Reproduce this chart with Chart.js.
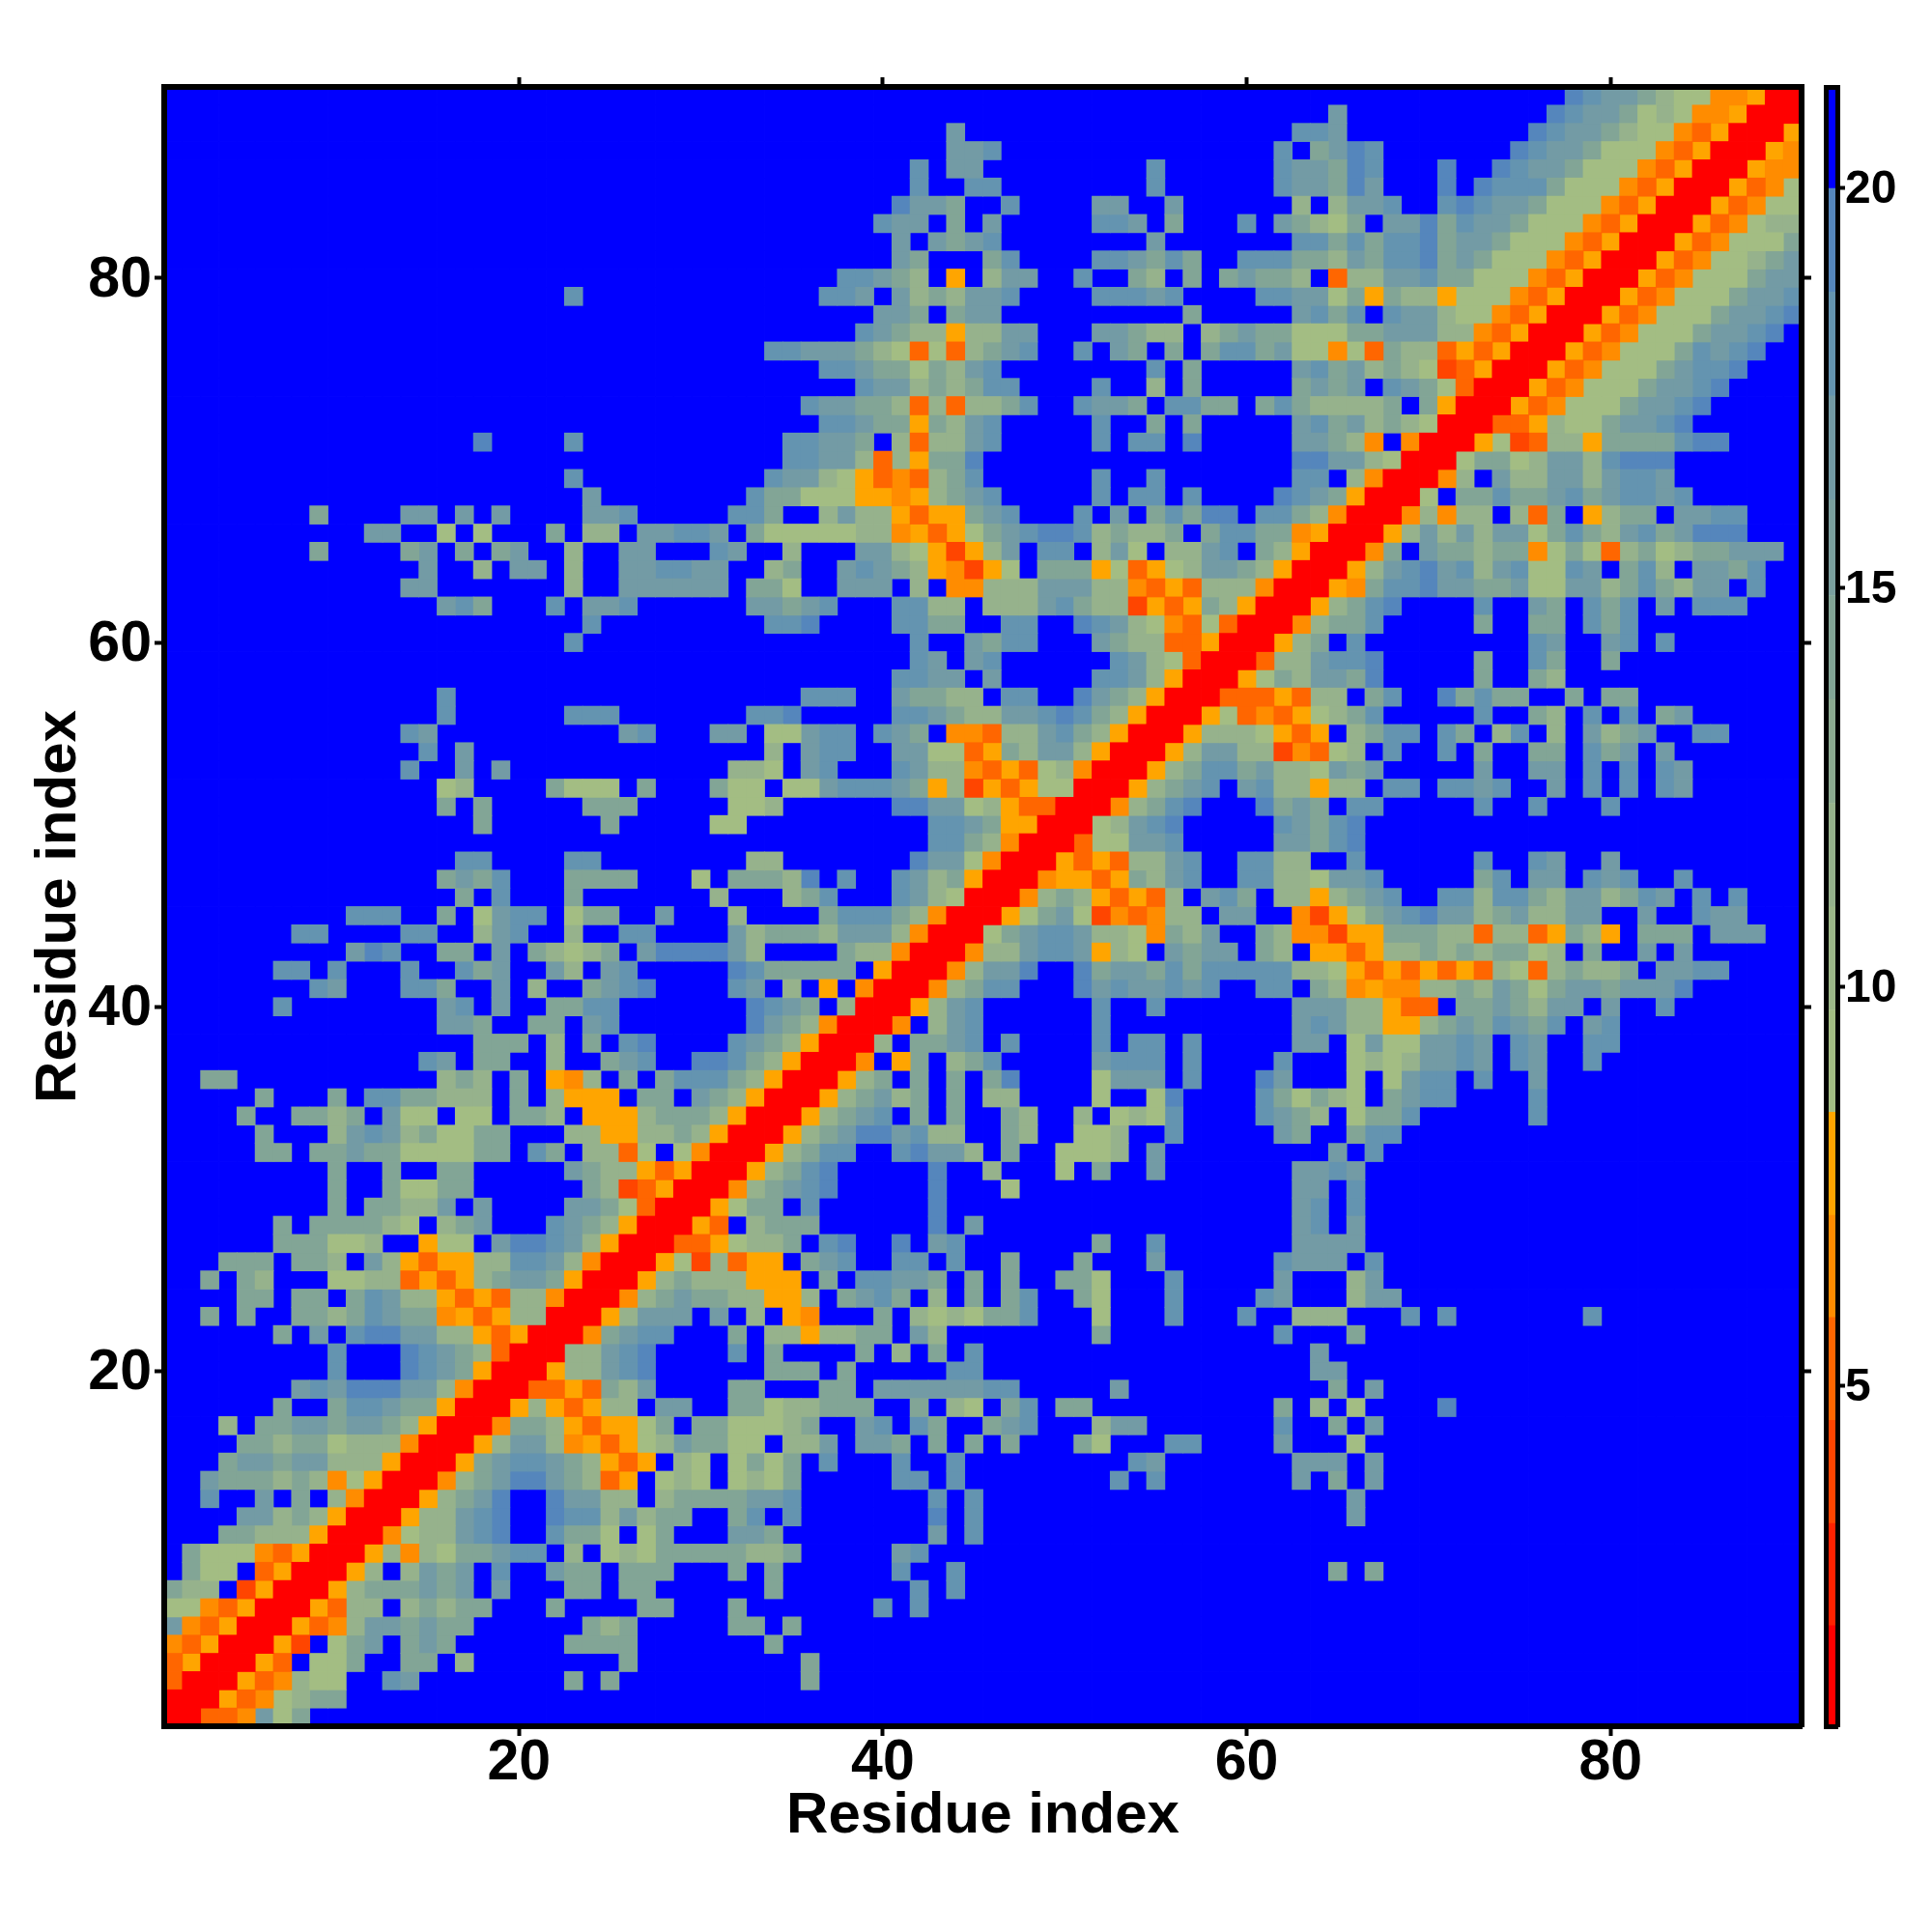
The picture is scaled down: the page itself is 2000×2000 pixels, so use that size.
<!DOCTYPE html>
<html><head><meta charset="utf-8">
<style>html,body{margin:0;padding:0;background:#fff}
#main{position:absolute;left:0;top:0}
#bar{position:absolute;left:1860px;top:0}</style>
<script src="https://cdn.jsdelivr.net/npm/chart.js@4"></script>
</head><body>
<canvas id="main" width="2000" height="2000"></canvas>
<canvas id="bar" width="140" height="2000"></canvas>
<script>
const residueCount = 90;
const axisTicks = [20,40,60,80];
const barTicks = [5,10,15,20];
const axisTitle = 'Residue index';
const levelBreaks = [0.74,2,3.28,4.57,5.86,7.14,8.43,9.71,11,12.3,13.6,14.9,16.1,17.4,18.7,20,21.27];
const levelColors = ['#ff0000','#ff2200','#ff4500','#ff6600','#ff8c00','#ffa500','#a3bd83','#9cb788','#96b28c','#8cab91','#82a596','#7a9f9e','#739ba5','#6494b0','#5586bc','#0000ff'];
// distance read from each cell, by letter
const letterValues = {X:1.35,R:3.9,Q:5.2,P:6.5,O:7.8,f:9.1,e:11.6,d:14.2,c:16.8,b:18,a:19.4};
const farValue = 20.6;
// rows[i] is residue y=i+1, cells for x<=y as "startX letters"; unlisted cells are far; the map is symmetric
const rows = [
"1X","1XX","1QXX","1QOXX","1PQOXX","1cPQOXX","1ffPQOXX","1dee 5ROXX","2dff 6QOXX","2dfffPQOXX",
"4ddeeeOXX","5ccedeOXX","3b 6c 8d 10ePXX","3cdddedePfOXX","4dccdcceeeOXX","5ddeddfeeePXX","4e 6ddccdccdeOXX","7d 10dbbcddOXX","8cbcaaaccePXX","10b 14abcdOXX",
"10b 14abcdeQXX","7d 9c 11baacceeOQOXX","3d 5d 8ddedbcddPOQOeeXX","5dd 8dd 11dbceeOQOQeePXX","3d 5de 10ffeeQOQOedccdOXX","4ddd 8dde 12ceOQOOeebbcePXX","7dddffe 15Off 19caabceOXX","7d 9ddddef 16edc 22bcdeOXX","10d 12ddeec 18c 23ccdfQXX","10d 13dffdd 24deRQOXX",
"10d 13d 16dd 23cdeeOQOXX","6dd 9ddcddffffdd 21bd 24eeQf 29fPXX","6d 10ecbcedffdd 23eeOOeedeOXX","5d 8dded 13cff 17ff 20dde 24OOOedddeOXX","6d 10d 12bbddeee 20d 22eOOO 27dd 30cdeOXX","3dd 16ede 20d 22OPe 26d 28dbbbdeOXX","15bc 18dd 22e 25dcb 30aabdeOXX","18ddd 22e 24d 26ba 32bcdeOXX","16ccd 21dd 24cb 33acdePXX","7b 16cb 19c 22ddbb 33abcd 38eXX",
"9bc 14bbd 19c 21e 24dcba 32bc 35e 37O 39PXX","7bb 10b 14b 17bdc 22ce 25cb 32abddddd 40OXX","11cab 16dd 19c 21defed 27caaaace 38deePXX","8bb 14bb 18ecb 23e 26bb 32cedddecccePXX","11bbb 16d 18fcbb 23fdd 28c 32e 37dbbbdePXX","17d 19b 23d 31e 35edb 41bcefXX","16dcdb 23dddd 30f 32dddea 38b 41bcedOXX","17bb 23bb 33ee 42accfPXX","43bbdePXX","18d 25d 31ff 43bbcdOOXX",
"16d 18d 24ddd 32ffe 41aaccfeOQQXX","16fe 22dfff 27d 31dff 35ffcbbbcdOeROQOffXX","14b 17c 19c 32eef 36cb 41bceePQOQfePXX","15b 17c 34e 36cbb 41ccffQOdecceOXX","14bc 26cb 31cc 34ffcbb 40bcd 44PPQeecbdeOXX","16b 23bbb 33bba 41bbcdeeccbabdeOXX","16b 36bbb 41cddee 47bb 51acdeOXX","41bbcc 46c 52bbceOXX","42bc 45cb 53bcefQXX","23b 42b 45cdbb 52cdeeQQOXX",
"24b 34bba 41bbdd 47bb 51abcefPQfQXX","16cbd 22b 24ccb 33ccdcb 41bbee 46eeecbdeeROQOdeOXX","14cc 23e 26cccccc 33ddf 38ccc 42e 44PPeeeccceePQOQeeePXX","15c 18e 20cc 23e 26ccbbcc 34ed 38cbcdeOPROf 49dddOfQOfeccdeOXX","9d 14dc 17d 19dc 23e 26cc 31bc 35e 39ccefOROec 49bb 52ecf 56eecb 61deOXX","12cc 16f 18f 22d 24ee 27ccbbc 33dfffffeePOQOfdcbaabedeed 58dbbddPOXX","9d 14cc 17c 19c 24ccb 32bbd 37eceeOQOOdcb 51b 53c 55dbdaa 61bbdePXX","24c 33bddfffOOPOedcb 52b 54bb 57b 62abcdOXX","23b 34bccefOQPQedb 52b 55b 63bb 66ePXX","35bbcceQeOdda 63aaccefXX",
"18a 23b 35bbccd 41eQeecb 52b 54bb 57a 63ccdeP 69PXX","37bbcddOdecb 52b 55d 57d 63cbdcedefXX","36bccddeQeQeedb 51bccd 56bbdd 61dbdeeeed 70dOXX","39bccededbb 52b 55e 57d 63dcdc 68bcdfQXX","37bbcddfdecb 55b 57d 63cbdcedefRQOXX","34bbcccdefQfQedcb 51b 53cd 56d 58dbbdcffPfQdeeQOQOXX","39bcdeeOeecc 52ccdee 58edcddfffddccceePQOXX","40ccd 44dcc 57d 63cbdb 68bcceffPQOXX","23b 37bbc 41cedeccb 52bbbcb 61bbccfdOdeeOfffPQOXX","38bbcde 44O 46ecc 51b 54de 57d 59dcdde 65QeeccbddfffPQOXX",
"41cd 46db 52bbcdbd 60bbbddecdbbadcdfffPQOXX","41c 43cdcb 55c 63bbdbdbbadccdfffPQOXX","40bcc 44d 46c 52bbc 56d 60b 62cdefd 68ccadbccdfffPQOXX","41accd 47b 52cc 56c 63e 65eccb 71babccdfffPQOXX","42b 45bb 55b 62bccdac 71a 73abbbdfffPQOXX","42b 44cc 55b 62bccdab 71a 74abccdfffPQOXX","44ccb 62b 64dcab 75abccdfffPQOXX","44c 63bbc 76abccdeffPQOXX","65c 77abccdfefPPOXX","78abccdeffPPOXX"
];

// decode into the full symmetric matrix
const values = Array.from({length:residueCount},()=>new Array(residueCount).fill(farValue));
rows.forEach((row,i)=>{
  for(const seg of row.split(' ')){
    const m = seg.match(/^(\d+)(.+)$/);
    [...m[2]].forEach((ch,k)=>{
      const x = +m[1]-1+k;
      if(x<residueCount){values[i][x]=letterValues[ch];values[x][i]=letterValues[ch];}
    });
  }
});
const levelOf = v => {for(let l=0;l<levelColors.length;l++) if(v<levelBreaks[l+1]) return l; return levelColors.length-1;};
const byLevel = levelColors.map(()=>[]);
values.forEach((r,yi)=>r.forEach((v,xi)=>byLevel[levelOf(v)].push({x:xi+1,y:yi+1,v})));

const fontFamily = '"Liberation Sans", Arial, Helvetica, sans-serif';
const fixSize = (prop,size)=> s=>{s[prop]=size;};
const frame = {display:true,width:6,color:'#000',z:1};
const barFrame = {display:true,width:5,color:'#000',z:1};
const tickGrid = len=>({display:true,drawOnChartArea:false,drawTicks:true,tickLength:len,tickWidth:4,tickColor:'#000',z:1});
const setTicks = arr => s=>{s.ticks=arr.map(v=>({value:v}));};
const axisFont = {family:fontFamily,size:59,weight:'bold',lineHeight:1};
const titleFont = {family:fontFamily,size:60,weight:'bold'};

const cellHalf = c => {
  const xs=c.chart.scales.x;
  const half=Math.abs(xs.getPixelForValue(2)-xs.getPixelForValue(1))/2;
  return (half+0.4)/Math.SQRT1_2;
};

new Chart(document.getElementById('main'),{
  type:'scatter',
  data:{datasets:byLevel.map((pts,l)=>({
    label:'level '+l,data:pts,pointStyle:'rect',backgroundColor:levelColors[l],
    borderWidth:0,pointBorderWidth:0,pointRadius:cellHalf,pointHoverRadius:cellHalf,clip:0,
    order:l
  })).filter(d=>d.data.length)},
  options:{
    responsive:false,animation:false,events:[],parsing:false,
    layout:{padding:0},
    plugins:{legend:{display:false},tooltip:{enabled:false},title:{display:false}},
    scales:{
      x:{type:'linear',position:'bottom',min:0.5,max:residueCount+0.5,afterBuildTicks:setTicks(axisTicks),afterFit:fixSize('height',213),
        border:frame,grid:tickGrid(10),
        ticks:{color:'#000',font:axisFont,padding:-1,maxRotation:0,autoSkip:false,z:1},
        title:{display:true,text:axisTitle,color:'#000',font:titleFont,padding:{top:0,bottom:84}}},
      xTop:{axis:'x',type:'linear',position:'top',min:0.5,max:residueCount+0.5,afterBuildTicks:setTicks(axisTicks),afterFit:fixSize('height',90),
        border:frame,grid:tickGrid(10),ticks:{display:false,z:1}},
      y:{type:'linear',position:'left',min:0.5,max:residueCount+0.5,afterBuildTicks:setTicks(axisTicks),afterFit:fixSize('width',170),
        border:frame,grid:tickGrid(10),
        ticks:{color:'#000',font:axisFont,padding:3,labelOffset:2.5,autoSkip:false,z:1},
        title:{display:true,text:axisTitle,color:'#000',font:titleFont,padding:{top:25,bottom:0}}},
      yRight:{axis:'y',type:'linear',position:'right',min:0.5,max:residueCount+0.5,afterBuildTicks:setTicks(axisTicks),afterFit:fixSize('width',135),
        border:frame,grid:tickGrid(10),ticks:{display:false,z:1}}
    }
  }
});

new Chart(document.getElementById('bar'),{
  type:'bar',
  data:{labels:[''],datasets:levelColors.map((col,l)=>({
    label:'level '+l,data:[[levelBreaks[l],levelBreaks[l+1]]],backgroundColor:col,borderWidth:0,
    grouped:false,barPercentage:1,categoryPercentage:1,yAxisID:'y',xAxisID:'x'
  }))},
  options:{
    responsive:false,animation:false,events:[],
    layout:{padding:0},
    plugins:{legend:{display:false},tooltip:{enabled:false}},
    scales:{
      x:{position:'bottom',afterFit:fixSize('height',213),border:barFrame,grid:{display:false},ticks:{display:false}},
      xTop:{axis:'x',type:'category',labels:[''],position:'top',afterFit:fixSize('height',90),border:barFrame,grid:{display:false},ticks:{display:false}},
      yLeft:{axis:'y',type:'linear',position:'left',min:levelBreaks[0],max:levelBreaks[16],afterFit:fixSize('width',30),border:barFrame,grid:{display:false},ticks:{display:false}},
      y:{type:'linear',position:'right',min:levelBreaks[0],max:levelBreaks[16],afterBuildTicks:setTicks(barTicks),afterFit:fixSize('width',98),
        border:barFrame,grid:tickGrid(8),
        ticks:{color:'#000',font:{family:fontFamily,size:48,weight:'bold'},padding:0,labelOffset:2,autoSkip:false,z:1}}
    }
  }
});
</script>
</body></html>
